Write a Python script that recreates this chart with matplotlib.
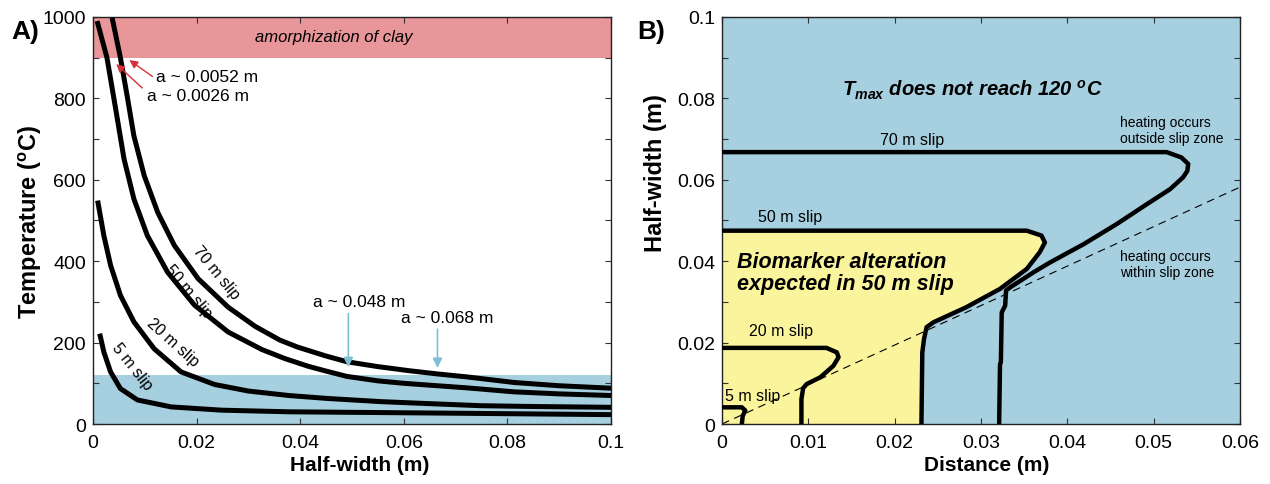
import matplotlib
matplotlib.use("Agg")
import matplotlib.pyplot as plt
import numpy as np

plt.rcParams['font.family'] = ['Liberation Sans', 'DejaVu Sans']
plt.rcParams['mathtext.fontset'] = 'custom'
plt.rcParams['mathtext.rm'] = 'Liberation Sans'
plt.rcParams['mathtext.it'] = 'Liberation Sans:italic'
plt.rcParams['mathtext.bf'] = 'Liberation Sans:bold'
plt.rcParams['mathtext.bfit'] = 'Liberation Sans:italic:bold'

# Panel A: peak temperature vs half-width
w70 = [0.0037, 0.0053, 0.0066, 0.0079, 0.0099, 0.0125, 0.0157, 0.0203, 0.0261, 0.0313,
       0.0361, 0.0395, 0.045, 0.049, 0.055, 0.061, 0.0665, 0.072, 0.0813, 0.09, 0.1]
t70 = [998, 900, 806, 708, 610, 520, 439, 357, 287, 240,
       206, 189, 167, 153, 141, 131, 123, 116, 102, 94, 88]

w50 = [0.0008, 0.0027, 0.0044, 0.006, 0.0079, 0.0105, 0.0144, 0.0196, 0.0261, 0.0326,
       0.037, 0.0415, 0.045, 0.049, 0.055, 0.06, 0.0665, 0.072, 0.0813, 0.09, 0.1]
t50 = [990, 900, 773, 651, 553, 463, 373, 292, 226, 183,
       161, 142, 130, 117, 106, 100, 94, 89, 79, 74, 70]

w20 = [0.0009, 0.0021, 0.0034, 0.0053, 0.0079, 0.0118, 0.017, 0.0235, 0.03, 0.0378,
       0.045, 0.0555, 0.065, 0.0748, 0.085, 0.1]
t20 = [549, 463, 390, 316, 251, 185, 128, 97, 81, 70, 63, 55, 50, 45, 43, 41]

w5 = [0.0013, 0.0021, 0.0034, 0.0053, 0.0086, 0.0151, 0.0248, 0.0378, 0.0655, 0.1]
t5 = [222, 177, 128, 87, 59, 42, 34, 30, 27, 23]

# Panel B: 120 C contours (distance, half-width)
d70 = [0, 0.0515, 0.0532, 0.054, 0.0539, 0.0534, 0.0519, 0.0492, 0.0457, 0.0419, 0.038,
       0.0361, 0.0334, 0.0329, 0.0328, 0.0324, 0.0323, 0.0322, 0.0321]
h70 = [0.0668, 0.0668, 0.0655, 0.0639, 0.0622, 0.0606, 0.0577, 0.054, 0.0491, 0.0442, 0.0397,
       0.0373, 0.0336, 0.0328, 0.0291, 0.0274, 0.0152, 0.0147, 0]

d50 = [0, 0.0353, 0.037, 0.0374, 0.0368, 0.0353, 0.0322, 0.0283, 0.0245, 0.0237, 0.0234,
       0.0232, 0.0231]
h50 = [0.0475, 0.0475, 0.0463, 0.0446, 0.0422, 0.0381, 0.0332, 0.0287, 0.025, 0.0238, 0.0209,
       0.0176, 0]

d20 = [0, 0.0121, 0.0133, 0.0135, 0.0129, 0.0114, 0.0098, 0.0094, 0.0092, 0.0092]
h20 = [0.0187, 0.0187, 0.0176, 0.0164, 0.0143, 0.0115, 0.0098, 0.0088, 0.0061, 0]

d5 = [0, 0.0023, 0.0027, 0.0024, 0.0023]
h5 = [0.0041, 0.0041, 0.0033, 0.002, 0]

slip_line = [0, 0.06]
slip_line_h = [0, 0.0582]

pink = '#E89699'
blue = '#A6CFDF'
yellow = '#FAF49C'

fig = plt.figure(figsize=(12.7, 4.85), dpi=100)
ax = fig.add_axes([0.0732, 0.1237, 0.4079, 0.8392])
ax2 = fig.add_axes([0.5685, 0.1237, 0.4079, 0.8392])

# ---- Panel A
ax.axhspan(900, 1000, color=pink, lw=0, zorder=0)
ax.axhspan(0, 120, color=blue, lw=0, zorder=0)
for w, t in [(w70, t70), (w50, t50), (w20, t20), (w5, t5)]:
    ax.plot(w, t, 'k-', lw=3.6, solid_capstyle='butt', solid_joinstyle='round', zorder=3)

ax.text(0.0465, 951, 'amorphization of clay', style='italic', fontsize=12,
        ha='center', va='center')
ax.text(0.0238, 373, '70 m slip', rotation=-50.5, fontsize=11.5, ha='center', va='center')
ax.text(0.0185, 328, '50 m slip', rotation=-50, fontsize=11.5, ha='center', va='center')
ax.text(0.0154, 202, '20 m slip', rotation=-42, fontsize=11.5, ha='center', va='center')
ax.text(0.0075, 142, '5 m slip', rotation=-51.5, fontsize=11.5, ha='center', va='center')

red = '#D7303A'
cyan = '#7DC0D6'
ax.annotate('', xy=(0.0066, 898), xytext=(0.0119, 850),
            arrowprops=dict(arrowstyle='-|>', color=red, lw=1.0, mutation_scale=12))
ax.annotate('', xy=(0.0041, 889), xytext=(0.0099, 821),
            arrowprops=dict(arrowstyle='-|>', color=red, lw=1.0, mutation_scale=12))
ax.text(0.0122, 853, 'a ~ 0.0052 m', fontsize=12.5, ha='left', va='center')
ax.text(0.0104, 806, 'a ~ 0.0026 m', fontsize=12.5, ha='left', va='center')

ax.annotate('', xy=(0.0493, 133), xytext=(0.0493, 278),
            arrowprops=dict(arrowstyle='-|>', color=cyan, lw=1.2, mutation_scale=14))
ax.annotate('', xy=(0.0665, 131), xytext=(0.0665, 240),
            arrowprops=dict(arrowstyle='-|>', color=cyan, lw=1.2, mutation_scale=14))
ax.text(0.0513, 300, 'a ~ 0.048 m', fontsize=12.5, ha='center', va='center')
ax.text(0.0684, 262, 'a ~ 0.068 m', fontsize=12.5, ha='center', va='center')

ax.set_xlim(0, 0.1)
ax.set_ylim(0, 1000)
ax.set_xticks([0, 0.02, 0.04, 0.06, 0.08, 0.1])
ax.set_xticklabels(['0', '0.02', '0.04', '0.06', '0.08', '0.1'])
ax.set_yticks([0, 200, 400, 600, 800, 1000])
ax.set_yticks(np.arange(100, 1000, 200), minor=True)
ax.set_xlabel('Half-width (m)', fontsize=15, fontweight='bold')
ax.set_ylabel(r'Temperature ($^{\mathbf{o}}$C)', fontsize=17, fontweight='bold')
ax.xaxis.set_label_coords(0.515, -0.076)
ax.yaxis.set_label_coords(-0.095, 0.5)

# ---- Panel B
ax2.set_facecolor(blue)
ax2.fill(d50 + [0], h50 + [0], color=yellow, lw=0, zorder=1)
ax2.plot(slip_line, slip_line_h, 'k--', lw=0.8, dashes=(7, 5), zorder=2)
for d, h in [(d70, h70), (d50, h50), (d20, h20), (d5, h5)]:
    ax2.plot(d, h, 'k-', lw=3.2, solid_joinstyle='round', zorder=3)

ax2.text(0.029, 0.0823, r'$\mathbfit{T}_{\mathbfit{max}}$ does not reach 120 $^{\mathbfit{o}}$C',
         fontsize=14.5, fontweight='bold', style='italic', ha='center', va='center')
ax2.text(0.022, 0.0700, '70 m slip', fontsize=11.5, ha='center', va='center')
ax2.text(0.0079, 0.0511, '50 m slip', fontsize=11.5, ha='center', va='center')
ax2.text(0.0068, 0.0229, '20 m slip', fontsize=11.5, ha='center', va='center')
ax2.text(0.0036, 0.0070, '5 m slip', fontsize=11.5, ha='center', va='center')
ax2.text(0.0017, 0.0372, 'Biomarker alteration\nexpected in 50 m slip', fontsize=15.5,
         fontweight='bold', style='italic', ha='left', va='center', linespacing=1.1)
ax2.text(0.0461, 0.0723, 'heating occurs\noutside slip zone', fontsize=10,
         ha='left', va='center', linespacing=1.2)
ax2.text(0.0461, 0.0393, 'heating occurs\nwithin slip zone', fontsize=10,
         ha='left', va='center', linespacing=1.2)

ax2.set_xlim(0, 0.06)
ax2.set_ylim(0, 0.1)
ax2.set_xticks([0, 0.01, 0.02, 0.03, 0.04, 0.05, 0.06])
ax2.set_xticklabels(['0', '0.01', '0.02', '0.03', '0.04', '0.05', '0.06'])
ax2.set_yticks([0, 0.02, 0.04, 0.06, 0.08, 0.1])
ax2.set_yticklabels(['0', '0.02', '0.04', '0.06', '0.08', '0.1'])
ax2.set_yticks(np.arange(0.01, 0.1, 0.02), minor=True)
ax2.set_xlabel('Distance (m)', fontsize=15, fontweight='bold')
ax2.set_ylabel('Half-width (m)', fontsize=17, fontweight='bold')
ax2.xaxis.set_label_coords(0.51, -0.076)
ax2.yaxis.set_label_coords(-0.106, 0.62)

for a in (ax, ax2):
    a.tick_params(which='both', direction='in', top=True, right=True, length=4,
                  width=0.8, labelsize=14, color='#333333')
    a.tick_params(axis='x', pad=7)
    a.tick_params(axis='y', pad=5)
    for s in a.spines.values():
        s.set_linewidth(1.0)
        s.set_color('#222222')

fig.text(0.009, 0.934, 'A)', fontsize=19, fontweight='bold', va='center')
fig.text(0.502, 0.934, 'B)', fontsize=19, fontweight='bold', va='center')

plt.savefig('out.png', dpi=100)
